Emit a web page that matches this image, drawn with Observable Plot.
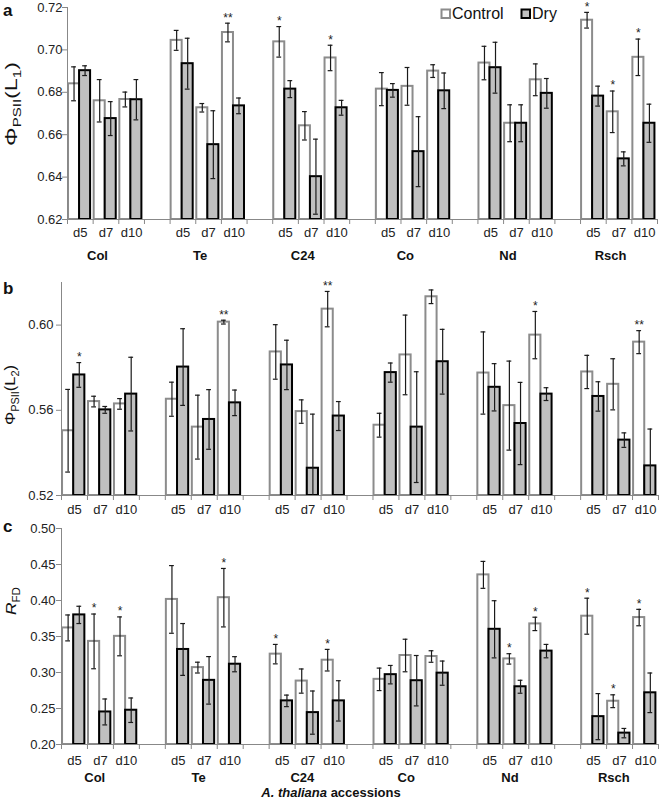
<!DOCTYPE html>
<html>
<head>
<meta charset="utf-8">
<script src="https://cdn.jsdelivr.net/npm/d3@7"></script>
<script src="https://cdn.jsdelivr.net/npm/@observablehq/plot@0.6"></script>
<style>
  body { margin: 0; background: #fff; font-family: "Liberation Sans", Arial, sans-serif; }
  #wrap { position: relative; width: 661px; height: 800px; overflow: hidden; background: #fff; }
  #wrap > svg { position: absolute; left: 0; }
</style>
</head>
<body>
<div id="wrap"></div>
<script>
// ---------- data ----------
const accessions = ["Col", "Te", "C24", "Co", "Nd", "Rsch"];
const days = ["d5", "d7", "d10"];
const treatments = ["Control", "Dry"];

// panel a: ΦPSII(L1)  (order: Col d5,d7,d10, Te d5.., C24.., Co.., Nd.., Rsch..)
const ctrlA    = [0.684, 0.676, 0.6766, 0.7045, 0.6727, 0.7082, 0.7038, 0.6642, 0.6962, 0.6815, 0.6828, 0.690, 0.6938, 0.6654, 0.6859, 0.714, 0.6708, 0.6965];
const ctrlAErr = [0.008, 0.010, 0.0035, 0.0047, 0.002, 0.0044, 0.0072, 0.0067, 0.006, 0.0078, 0.0089, 0.003, 0.0079, 0.0087, 0.0075, 0.0037, 0.0098, 0.0086];
const dryA     = [0.6902, 0.6676, 0.6765, 0.6935, 0.6553, 0.6736, 0.6815, 0.6402, 0.6727, 0.6809, 0.652, 0.6807, 0.6916, 0.6654, 0.6795, 0.6782, 0.6486, 0.6654];
const dryAErr  = [0.0023, 0.008, 0.0095, 0.012, 0.016, 0.0037, 0.004, 0.0177, 0.0035, 0.0032, 0.0165, 0.0084, 0.012, 0.0087, 0.007, 0.0047, 0.0033, 0.009];
const ctrlAStar = ["", "", "", "", "", "**", "*", "", "*", "", "", "", "", "", "", "*", "*", "*"];
const dryAStar  = ["", "", "", "", "", "", "", "", "", "", "", "", "", "", "", "", "", ""];
const yDomainA = [0.62, 0.72];
const yTicksA  = [0.62, 0.64, 0.66, 0.68, 0.70, 0.72];

// panel b: ΦPSII(L2)
const ctrlB    = [0.5504, 0.5641, 0.563, 0.5652, 0.5521, 0.6014, 0.5874, 0.5594, 0.6075, 0.553, 0.586, 0.6133, 0.5775, 0.5622, 0.5953, 0.578, 0.5722, 0.592];
const ctrlBErr = [0.0194, 0.0025, 0.0025, 0.008, 0.015, 0.0009, 0.0128, 0.0055, 0.0083, 0.0056, 0.0187, 0.0032, 0.0193, 0.0209, 0.0111, 0.0078, 0.012, 0.0054];
const dryB     = [0.5766, 0.5602, 0.5676, 0.5803, 0.5557, 0.5635, 0.5813, 0.5328, 0.5573, 0.5777, 0.5521, 0.5828, 0.5708, 0.5538, 0.5676, 0.5665, 0.546, 0.5339];
const dryBErr  = [0.0058, 0.0016, 0.0173, 0.018, 0.014, 0.006, 0.0116, 0.0254, 0.0068, 0.0045, 0.026, 0.0152, 0.0111, 0.0193, 0.003, 0.0069, 0.0034, 0.0173];
const ctrlBStar = ["", "", "", "", "", "**", "", "", "**", "", "", "", "", "", "*", "", "", "**"];
const dryBStar  = ["*", "", "", "", "", "", "", "", "", "", "", "", "", "", "", "", "", ""];
const yDomainB = [0.52, 0.62];
const yTicksB  = [0.52, 0.56, 0.60];

// panel c: RFD
const ctrlC    = [0.3619, 0.3432, 0.3502, 0.4015, 0.3068, 0.4039, 0.3255, 0.2881, 0.3171, 0.2905, 0.3236, 0.3222, 0.4356, 0.3189, 0.3675, 0.3782, 0.2601, 0.3763];
const ctrlCErr = [0.018, 0.038, 0.027, 0.047, 0.0075, 0.0406, 0.0135, 0.0168, 0.015, 0.0156, 0.0226, 0.008, 0.0187, 0.0072, 0.0093, 0.025, 0.0089, 0.0114];
const dryC     = [0.380, 0.2452, 0.2476, 0.332, 0.2891, 0.3115, 0.2606, 0.2443, 0.2606, 0.297, 0.2886, 0.2991, 0.36, 0.2802, 0.3297, 0.2387, 0.2158, 0.2718];
const dryCErr  = [0.012, 0.018, 0.017, 0.036, 0.033, 0.0105, 0.008, 0.03, 0.028, 0.0128, 0.035, 0.0168, 0.0397, 0.009, 0.0093, 0.032, 0.0065, 0.0275];
const ctrlCStar = ["", "*", "*", "", "", "*", "*", "", "*", "", "", "", "", "*", "*", "*", "*", "*"];
const dryCStar  = ["", "", "", "", "", "", "", "", "", "", "", "", "", "", "", "", "", ""];
const yDomainC = [0.20, 0.50];
const yTicksC  = [0.20, 0.25, 0.30, 0.35, 0.40, 0.45, 0.50];

// ---------- build ----------
const slots = [];
accessions.forEach((a, i) => {
  days.forEach(d => slots.push(a + "|" + d));
  if (i < accessions.length - 1) slots.push("gap" + i);
});

function rowsOf(ctrl, ctrlErr, dry, dryErr, cStar, dStar) {
  const rows = [];
  let k = 0;
  accessions.forEach(a => days.forEach(d => {
    rows.push({acc: a, day: d, slot: a + "|" + d, ctrl: ctrl[k], ctrlErr: ctrlErr[k], dry: dry[k], dryErr: dryErr[k], cs: cStar[k], ds: dStar[k]});
    k++;
  }));
  return rows;
}

const W = 661;
const wrap = document.getElementById("wrap");

function panel({rows, domain, ticks, top, height, ml, mr, mt, mb, tickPadding, dayDy, groupDy, groupDx, showGroups}) {
  const bw = (W - ml - mr) / slots.length;
  const plotH = height - mt - mb;
  const y0 = domain[0];
  const clampLo = v => Math.max(v, y0);
  const cL = 0.04, cR = 0.47, dR = 0.90;
  const cdx = ((cL + cR) / 2 - 0.5) * bw;
  const ddx = ((cR + dR) / 2 - 0.5) * bw;
  const capIn = bw / 2 - 2.4;
  const errStroke = "#1a1a1a";
  const marks = [
    Plot.barY(rows, {x: "slot", y1: y0, y2: "ctrl", insetLeft: cL * bw, insetRight: (1 - cR) * bw, fill: "white", stroke: "#8c8c8c", strokeWidth: 2}),
    Plot.barY(rows, {x: "slot", y1: y0, y2: "dry", insetLeft: cR * bw, insetRight: (1 - dR) * bw, fill: "#c0c0c0", stroke: "#000", strokeWidth: 2}),
    // error bars control
    Plot.ruleX(rows, {x: "slot", y1: d => clampLo(d.ctrl - d.ctrlErr), y2: d => d.ctrl + d.ctrlErr, dx: cdx, stroke: errStroke, strokeWidth: 1.2}),
    Plot.tickY(rows, {x: "slot", y: d => d.ctrl + d.ctrlErr, dx: cdx, insetLeft: capIn, insetRight: capIn, stroke: errStroke, strokeWidth: 1.2}),
    Plot.tickY(rows, {filter: d => d.ctrl - d.ctrlErr >= y0, x: "slot", y: d => d.ctrl - d.ctrlErr, dx: cdx, insetLeft: capIn, insetRight: capIn, stroke: errStroke, strokeWidth: 1.2}),
    // error bars dry
    Plot.ruleX(rows, {x: "slot", y1: d => clampLo(d.dry - d.dryErr), y2: d => d.dry + d.dryErr, dx: ddx, stroke: errStroke, strokeWidth: 1.2}),
    Plot.tickY(rows, {x: "slot", y: d => d.dry + d.dryErr, dx: ddx, insetLeft: capIn, insetRight: capIn, stroke: errStroke, strokeWidth: 1.2}),
    Plot.tickY(rows, {filter: d => d.dry - d.dryErr >= y0, x: "slot", y: d => d.dry - d.dryErr, dx: ddx, insetLeft: capIn, insetRight: capIn, stroke: errStroke, strokeWidth: 1.2}),
    // significance stars
    Plot.text(rows, {filter: d => d.cs, x: "slot", y: d => d.ctrl + d.ctrlErr, text: "cs", dx: cdx, dy: -5.5, fontSize: 12, fill: "#222"}),
    Plot.text(rows, {filter: d => d.ds, x: "slot", y: d => d.dry + d.dryErr, text: "ds", dx: ddx, dy: -5.5, fontSize: 12, fill: "#222"}),
    // axes lines
    Plot.ruleY([y0], {stroke: "#888", strokeWidth: 1}),
    Plot.ruleX([slots[0]], {x: d => d, dx: -bw / 2, stroke: "#888", strokeWidth: 1}),
    Plot.ruleX(slots, {x: d => d, dx: -bw / 2, insetTop: plotH, insetBottom: -5, stroke: "#888", strokeWidth: 1}),
    Plot.ruleX([slots[slots.length - 1]], {x: d => d, dx: bw / 2, insetTop: plotH, insetBottom: -5, stroke: "#888", strokeWidth: 1}),
    Plot.axisY({ticks, tickSize: 5, text: null, stroke: "#888", label: null}),
    Plot.axisY({ticks, tickSize: 0, tickPadding: 5 + tickPadding, tickFormat: d3.format(".2f"), fill: "#222", fontSize: 13, label: null}),
    // day labels
    Plot.text(rows, {x: "slot", y: y0, text: "day", dy: dayDy, fontSize: 13, fill: "#222"})
  ];
  if (showGroups) {
    marks.push(Plot.text(accessions, {x: a => a + "|d7", y: y0, text: a => a, dx: groupDx * bw, dy: groupDy, fontSize: 13, fontWeight: "bold", fill: "#111"}));
  }
  const svg = Plot.plot({
    width: W, height,
    marginLeft: ml, marginRight: mr, marginTop: mt, marginBottom: mb,
    style: {background: "transparent", overflow: "visible", fontFamily: "'Liberation Sans', Arial, sans-serif", fontSize: "13px", color: "#222"},
    x: {domain: slots, padding: 0, round: false, axis: null},
    y: {domain, axis: null, label: null},
    marks
  });
  svg.style.top = top + "px";
  svg.style.position = "absolute";
  wrap.appendChild(svg);
}

panel({rows: rowsOf(ctrlA, ctrlAErr, dryA, dryAErr, ctrlAStar, dryAStar), domain: yDomainA, ticks: yTicksA,
  top: 0, height: 265, ml: 67, mr: 4, mt: 7, mb: 46, tickPadding: 0, dayDy: 13.5, groupDy: 36, groupDx: -0.33, showGroups: true});
panel({rows: rowsOf(ctrlB, ctrlBErr, dryB, dryBErr, ctrlBStar, dryBStar), domain: yDomainB, ticks: yTicksB,
  top: 262, height: 258, ml: 61, mr: 3, mt: 20, mb: 25, tickPadding: 3, dayDy: 14, groupDy: 34, groupDx: -0.25, showGroups: false});
panel({rows: rowsOf(ctrlC, ctrlCErr, dryC, dryCErr, ctrlCStar, dryCStar), domain: yDomainC, ticks: yTicksC,
  top: 520, height: 280, ml: 61, mr: 3, mt: 8, mb: 56, tickPadding: 1, dayDy: 16, groupDy: 33, groupDx: -0.22, showGroups: true});

// ---------- annotations (titles, legend, labels) ----------
const ov = d3.select("#wrap").append("svg")
  .attr("width", W).attr("height", 800)
  .style("top", "0px").style("pointer-events", "none")
  .attr("font-family", "'Liberation Sans', Arial, sans-serif");

[["a", 15.5], ["b", 294], ["c", 532]].forEach(([t, y]) => {
  ov.append("text").attr("x", 3).attr("y", y).attr("font-size", 17).attr("font-weight", "bold").attr("fill", "#111").text(t);
});

function ylab(cx, cy, parts, target, fs, sfs) {
  const g = ov.append("g").attr("transform", `translate(${cx},${cy}) rotate(-90)`);
  const t = g.append("text").attr("text-anchor", "middle").attr("font-size", fs).attr("fill", "#111");
  let shift = 0;
  parts.forEach(p => {
    const ts = t.append("tspan").text(p.s);
    if (p.italic) ts.attr("font-style", "italic");
    const want = p.sub ? 4 : 0;
    if (want !== shift) { ts.attr("dy", want - shift); shift = want; }
    if (p.sub) ts.attr("font-size", sfs);
  });
  const len = t.node().getComputedTextLength();
  if (target && len > 0) t.attr("transform", `scale(${target / len},1)`);
}
ylab(17, 104, [{s: "Φ"}, {s: "PSII", sub: true}, {s: "(L"}, {s: "1", sub: true}, {s: ")"}], 84, 17, 11);
ylab(15, 395, [{s: "Φ"}, {s: "PSII", sub: true}, {s: "(L"}, {s: "2", sub: true}, {s: ")"}], 60, 15, 10);
ylab(16, 601, [{s: "R", italic: true}, {s: "FD", sub: true}], 28, 15, 10);

// legend
ov.append("rect").attr("x", 441.5).attr("y", 9.5).attr("width", 8.5).attr("height", 8.5).attr("fill", "white").attr("stroke", "#8c8c8c").attr("stroke-width", 2);
ov.append("text").attr("x", 452).attr("y", 18.5).attr("font-size", 16).attr("fill", "#111").text(treatments[0]);
ov.append("rect").attr("x", 521.5).attr("y", 9.5).attr("width", 8.5).attr("height", 8.5).attr("fill", "#c0c0c0").attr("stroke", "#000").attr("stroke-width", 2);
ov.append("text").attr("x", 532).attr("y", 18.5).attr("font-size", 16).attr("fill", "#111").text(treatments[1]);

// x title
const xt = ov.append("text").attr("x", 331).attr("y", 796.5).attr("text-anchor", "middle").attr("font-size", 13).attr("font-weight", "bold").attr("fill", "#111");
xt.append("tspan").attr("font-style", "italic").text("A. thaliana");
xt.append("tspan").text(" accessions");
</script>
</body>
</html>
